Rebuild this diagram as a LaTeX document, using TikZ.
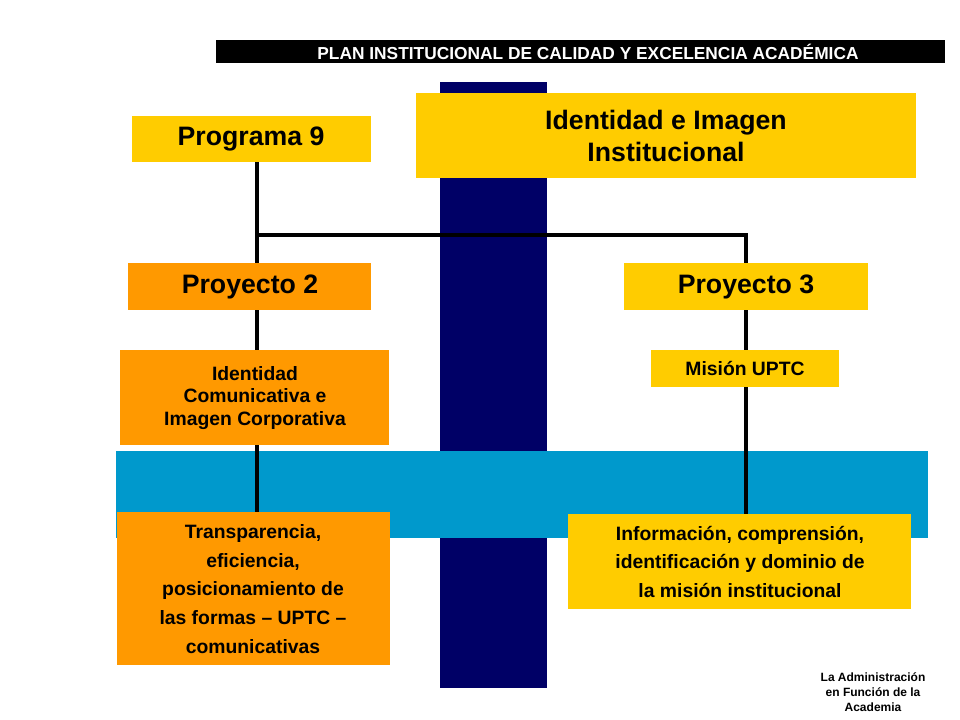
\documentclass[tikz,border=0pt]{standalone}
\usepackage{fontspec}
\setmainfont{Liberation Sans}
\begin{document}
\begin{tikzpicture}[x=0.75pt,y=-0.75pt,
  box/.style={draw=none,inner sep=0pt,align=center,font=\bfseries},
  big/.style={font=\fontsize{20}{24}\selectfont\bfseries},
  mid/.style={font=\fontsize{14.5}{17}\selectfont\bfseries},
  conn/.style={line width=3pt}]
\definecolor{ylw}{HTML}{FFCC00}
\definecolor{org}{HTML}{FF9900}
\definecolor{nvy}{HTML}{000066}
\definecolor{sky}{HTML}{0099CC}
\useasboundingbox (0,0) rectangle (960,720);
\fill[white] (0,0) rectangle (960,720);
\fill[black] (216,40) rectangle (945,63);
\node[box,text=white,font=\fontsize{13}{15}\selectfont\bfseries] (title) at (588,52) {PLAN INSTITUCIONAL DE CALIDAD Y EXCELENCIA ACADÉMICA};
\fill[nvy] (440,82) rectangle (547,688);
\fill[sky] (116,451) rectangle (928,538);
\fill[ylw] (416,93) rectangle (916,178);
\node[box,big] (iden) at (666,136) {Identidad e Imagen\\Institucional};
\fill[ylw] (132,116) rectangle (371,162);
\node[box,big] (p9) at (251,139) {Programa 9};
\coordinate (p9b) at (257,162);
\coordinate (j) at (257,235);
\coordinate (jr) at (746,235);
\draw[conn] (p9b) -- (257,512);
\draw[conn] (j) -- (jr) -- (746,514);
\fill[org] (128,263) rectangle (371,310);
\node[box,big] (pr2) at (250,287) {Proyecto 2};
\fill[ylw] (624,263) rectangle (868,310);
\node[box,big] (pr3) at (746,287) {Proyecto 3};
\fill[org] (120,350) rectangle (389,445);
\node[box,mid] (ic) at (255,398) {Identidad\\Comunicativa e\\Imagen Corporativa};
\fill[ylw] (651,350) rectangle (839,387);
\node[box,mid] (mis) at (745,369) {Misión UPTC};
\fill[org] (117,512) rectangle (390,665);
\node[box,mid,font=\fontsize{14.5}{21.5}\selectfont\bfseries] (tr) at (253,589) {Transparencia,\\eficiencia,\\posicionamiento de\\las formas – UPTC –\\comunicativas};
\fill[ylw] (568,514) rectangle (911,609);
\node[box,mid,font=\fontsize{14.5}{21.5}\selectfont\bfseries] (inf) at (740,562) {Información, comprensión,\\identificación y dominio de\\la misión institucional};
\node[box,font=\fontsize{9}{11.5}\selectfont\bfseries] (foot) at (873,692) {La Administración\\en Función de la\\Academia};
\end{tikzpicture}
\end{document}
